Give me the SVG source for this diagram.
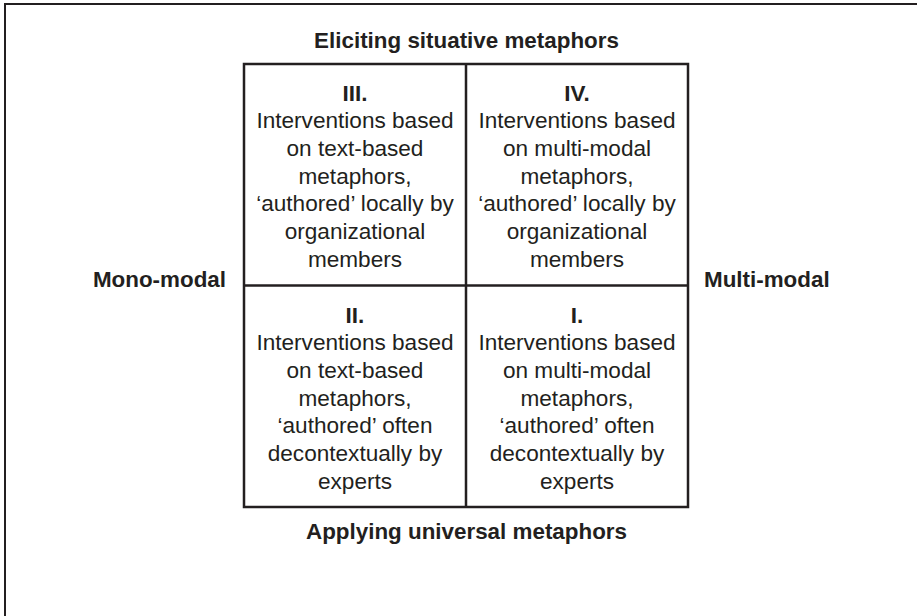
<svg xmlns="http://www.w3.org/2000/svg" width="917" height="616" viewBox="0 0 917 616">
  <style>
    .frame { fill: none; stroke: #231f20; stroke-width: 2; }
    .grid { fill: none; stroke: #231f20; stroke-width: 2.5; }
    .axis { font-family: "Liberation Sans", Arial, sans-serif; font-size: 22.4px; font-weight: bold; fill: #231f20; }
    .num { font-family: "Liberation Sans", Arial, sans-serif; font-size: 22.5px; font-weight: bold; fill: #231f20; text-anchor: middle; }
    .body { font-family: "Liberation Sans", Arial, sans-serif; font-size: 22.6px; fill: #231f20; text-anchor: middle; }
  </style>
  <rect width="917" height="616" fill="#ffffff"/>
  <!-- outer frame: only top and left edges fall inside the canvas -->
  <path class="frame" d="M5,620 L5,4 L920,4"/>

  <!-- axis labels -->
  <g id="axis-labels">
    <text class="axis" x="466.5" y="48" text-anchor="middle">Eliciting situative metaphors</text>
    <text class="axis" x="466.5" y="539" text-anchor="middle">Applying universal metaphors</text>
    <text class="axis" x="226" y="287" text-anchor="end">Mono-modal</text>
    <text class="axis" x="704" y="287">Multi-modal</text>
  </g>

  <!-- quadrant grid -->
  <g id="connectors">
    <rect class="grid" x="244" y="64" width="444" height="443"/>
    <line class="grid" x1="466" y1="64" x2="466" y2="507"/>
    <line class="grid" x1="244" y1="285.5" x2="688" y2="285.5"/>
  </g>

  <g id="quadrant-III">
    <text class="num" x="355" y="100.5">III.</text>
    <text class="body" x="355" y="128.2">Interventions based</text>
    <text class="body" x="355" y="155.9">on text-based</text>
    <text class="body" x="355" y="183.6">metaphors,</text>
    <text class="body" x="355" y="211.3">‘authored’ locally by</text>
    <text class="body" x="355" y="239">organizational</text>
    <text class="body" x="355" y="266.7">members</text>
  </g>

  <g id="quadrant-IV">
    <text class="num" x="577" y="100.5">IV.</text>
    <text class="body" x="577" y="128.2">Interventions based</text>
    <text class="body" x="577" y="155.9">on multi-modal</text>
    <text class="body" x="577" y="183.6">metaphors,</text>
    <text class="body" x="577" y="211.3">‘authored’ locally by</text>
    <text class="body" x="577" y="239">organizational</text>
    <text class="body" x="577" y="266.7">members</text>
  </g>

  <g id="quadrant-II">
    <text class="num" x="355" y="322.5">II.</text>
    <text class="body" x="355" y="350.2">Interventions based</text>
    <text class="body" x="355" y="377.9">on text-based</text>
    <text class="body" x="355" y="405.6">metaphors,</text>
    <text class="body" x="355" y="433.3">‘authored’ often</text>
    <text class="body" x="355" y="461">decontextually by</text>
    <text class="body" x="355" y="488.7">experts</text>
  </g>

  <g id="quadrant-I">
    <text class="num" x="577" y="322.5">I.</text>
    <text class="body" x="577" y="350.2">Interventions based</text>
    <text class="body" x="577" y="377.9">on multi-modal</text>
    <text class="body" x="577" y="405.6">metaphors,</text>
    <text class="body" x="577" y="433.3">‘authored’ often</text>
    <text class="body" x="577" y="461">decontextually by</text>
    <text class="body" x="577" y="488.7">experts</text>
  </g>
</svg>
